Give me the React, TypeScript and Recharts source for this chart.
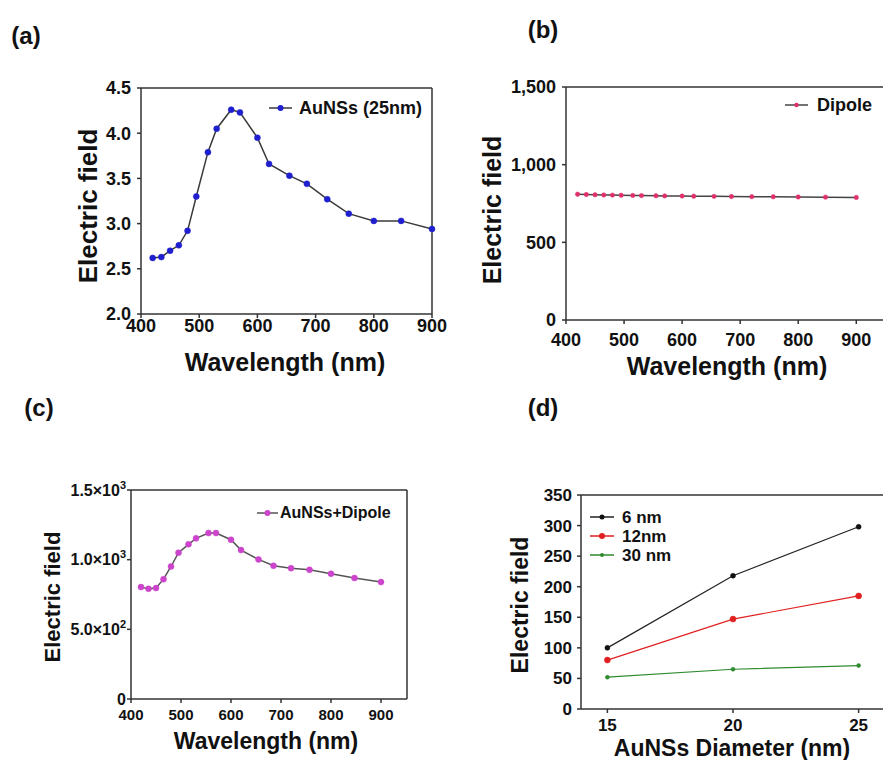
import React from 'react';
import { LineChart, Line, XAxis, YAxis, ReferenceLine, Legend } from 'recharts';

const FONT = '"Liberation Sans", Arial, Helvetica, sans-serif';

// ---------- data ----------
const wavelengths = [420, 435, 450, 465, 480, 495, 515, 530, 555, 570, 600, 620, 655, 685, 720, 757, 800, 847, 900];
const auNSs25 = [2.62, 2.63, 2.7, 2.76, 2.92, 3.3, 3.79, 4.05, 4.26, 4.23, 3.95, 3.66, 3.53, 3.44, 3.27, 3.11, 3.03, 3.03, 2.94];
const dipoleField = [810, 808, 806, 805, 804, 803, 802, 801, 800, 799, 798, 797, 796, 795, 794, 793, 792, 791, 789];
const auDipoleField = [803, 791, 796, 860, 951, 1050, 1110, 1153, 1191, 1191, 1143, 1069, 1002, 956, 939, 927, 899, 868, 839];
const diameters = [15, 20, 25];
const field6nm = [100, 218, 298];
const field12nm = [80, 147, 185];
const field30nm = [52, 65, 71];

const waveTicks = [400, 500, 600, 700, 800, 900];
const ticksA = [2.0, 2.5, 3.0, 3.5, 4.0, 4.5];
const ticksB = [0, 500, 1000, 1500];
const ticksC = [0, 500, 1000, 1500];
const ticksD = [0, 50, 100, 150, 200, 250, 300, 350];
const ticksDX = [15, 20, 25];

const dataA = wavelengths.map((w, i) => ({ w, au: auNSs25[i] }));
const dataB = wavelengths.map((w, i) => ({ w, dip: dipoleField[i] }));
const dataC = wavelengths.map((w, i) => ({ w, aud: auDipoleField[i] }));
const dataD = diameters.map((d, i) => ({ d, s6: field6nm[i], s12: field12nm[i], s30: field30nm[i] }));

// ---------- helpers ----------
type Box = { left: number; top: number; width: number; height: number; pl: number; pr: number; pt: number; pb: number };

function geom(b: Box) {
  return {
    margin: { top: b.pt - b.top, right: b.left + b.width - b.pr, bottom: 0, left: 0 },
    yWidth: b.pl - b.left,
    xHeight: b.top + b.height - b.pb,
  };
}

const AX = '#333';
const axisLine = { stroke: AX, strokeWidth: 1.5 };
const tickStyle = (size: number) => ({ fill: '#111', fontSize: size, fontWeight: 'bold', fontFamily: FONT });

const xTitle = (text: string, cx: number, cy: number, size: number, b: Box) => ({
  content: () => (
    <text x={cx - b.left} y={cy - b.top} textAnchor="middle" dominantBaseline="central"
      fontFamily={FONT} fontWeight="bold" fontSize={size} fill="#111">{text}</text>
  ),
});

const yTitle = (text: string, cx: number, cy: number, size: number, b: Box) => {
  const x = cx - b.left;
  const y = cy - b.top;
  return {
    content: () => (
      <text x={x} y={y} transform={`rotate(-90 ${x} ${y})`} textAnchor="middle" dominantBaseline="central"
        fontFamily={FONT} fontWeight="bold" fontSize={size} fill="#111">{text}</text>
    ),
  };
};

type SeriesStyle = { stroke: string; dot: string; r: number };

function makeLegend(styles: Record<string, SeriesStyle>, lineW: number, gap: number, fontSize: number, rowH: number) {
  const order = Object.keys(styles);
  return (props: any) => {
    const items = [...(props.payload || [])].sort(
      (p: any, q: any) => order.indexOf(String(p.dataKey)) - order.indexOf(String(q.dataKey))
    );
    return (
      <div>
        {items.map((p: any) => {
          const s = styles[p.dataKey];
          return (
            <div key={String(p.dataKey)} style={{ display: 'flex', alignItems: 'center', height: rowH }}>
              <svg width={lineW} height={10} style={{ display: 'block' }}>
                <line x1={0} y1={5} x2={lineW} y2={5} stroke={s.stroke} strokeWidth={1.5} />
                <circle cx={lineW / 2} cy={5} r={s.r} fill={s.dot} />
              </svg>
              <span style={{ marginLeft: gap, fontFamily: FONT, fontWeight: 'bold', fontSize, lineHeight: `${rowH}px`, color: '#111', whiteSpace: 'nowrap' }}>
                {p.value}
              </span>
            </div>
          );
        })}
      </div>
    );
  };
}

const legendWrap = (lx: number, ly: number, rowH: number, b: Box) => ({
  left: lx - b.left, top: ly - b.top - rowH / 2, width: 'auto', height: 'auto', margin: 0,
});

const SciTick = (props: any) => {
  const { x, y, payload } = props;
  const v = payload.value as number;
  const common = { x, y, dy: '0.35em', textAnchor: 'end' as const, fontFamily: FONT, fontWeight: 'bold', fontSize: 16, fill: '#111' };
  if (v === 0) return <text {...common}>0</text>;
  const exp = Math.floor(Math.log10(v));
  const mant = (v / Math.pow(10, exp)).toFixed(1);
  return (
    <text {...common}>
      {mant}×10<tspan dy={-7} fontSize={11}>{exp}</tspan>
    </text>
  );
};

// ---------- panel boxes ----------
const A: Box = { left: 55, top: 60, width: 420, height: 320, pl: 141, pr: 432, pt: 88, pb: 314 };
const B: Box = { left: 470, top: 55, width: 413, height: 330, pl: 566, pr: 883, pt: 87, pb: 320 };
const C: Box = { left: 20, top: 470, width: 400, height: 290, pl: 131, pr: 407, pt: 490, pb: 699 };
const D: Box = { left: 480, top: 470, width: 403, height: 290, pl: 581, pr: 883, pt: 495, pb: 709 };

const stylesA: Record<string, SeriesStyle> = { au: { stroke: '#3a3a3a', dot: '#1f1fd0', r: 3 } };
const stylesB: Record<string, SeriesStyle> = { dip: { stroke: '#444', dot: '#e0306a', r: 2.2 } };
const stylesC: Record<string, SeriesStyle> = { aud: { stroke: '#555', dot: '#cc44cc', r: 3 } };
const stylesD: Record<string, SeriesStyle> = {
  s6: { stroke: '#222', dot: '#111', r: 2.5 },
  s12: { stroke: '#e02020', dot: '#e02020', r: 3 },
  s30: { stroke: '#2e8b2e', dot: '#2e8b2e', r: 2 },
};

const PanelLabel = ({ text, cx, cy }: { text: string; cx: number; cy: number }) => (
  <div style={{ position: 'absolute', left: cx - 30, top: cy - 15, width: 60, height: 30, lineHeight: '30px', textAlign: 'center', fontFamily: FONT, fontWeight: 'bold', fontSize: 24, color: '#111' }}>
    {text}
  </div>
);

export default function App() {
  const gA = geom(A);
  const gB = geom(B);
  const gC = geom(C);
  const gD = geom(D);
  return (
    <div style={{ fontFamily: FONT }}>
      <PanelLabel text="(a)" cx={26} cy={36} />
      <PanelLabel text="(b)" cx={543} cy={30} />
      <PanelLabel text="(c)" cx={39} cy={408} />
      <PanelLabel text="(d)" cx={543} cy={408} />

      {/* (a) */}
      <div style={{ position: 'absolute', left: A.left, top: A.top }}>
        <LineChart width={A.width} height={A.height} data={dataA} margin={gA.margin}>
          <XAxis dataKey="w" type="number" domain={[400, 900]} ticks={waveTicks} interval={0} height={gA.xHeight}
            tickSize={4} tickMargin={1} axisLine={axisLine} tickLine={axisLine} tick={tickStyle(18)}
            label={xTitle('Wavelength (nm)', 285, 362, 25, A)} />
          <YAxis type="number" domain={[2, 4.5]} ticks={ticksA} interval={0} width={gA.yWidth}
            tickSize={4} tickMargin={6} axisLine={axisLine} tickLine={axisLine} tick={tickStyle(18)}
            tickFormatter={(v: number) => v.toFixed(1)}
            label={yTitle('Electric field', 88, 206, 26, A)} />
          <ReferenceLine y={4.5} stroke={AX} strokeWidth={1.5} ifOverflow="visible" />
          <ReferenceLine x={900} stroke={AX} strokeWidth={1.5} ifOverflow="visible" />
          <Line dataKey="au" name="AuNSs (25nm)" stroke={stylesA.au.stroke} strokeWidth={1.5}
            dot={{ r: stylesA.au.r, fill: stylesA.au.dot, stroke: stylesA.au.dot, strokeWidth: 0.5 }} isAnimationActive={false} />
          <Legend layout="horizontal" verticalAlign="middle" align="center"
            content={makeLegend(stylesA, 23, 7, 18, 22)} wrapperStyle={legendWrap(269, 108, 22, A)} />
        </LineChart>
      </div>

      {/* (b) */}
      <div style={{ position: 'absolute', left: B.left, top: B.top }}>
        <LineChart width={B.width} height={B.height} data={dataB} margin={gB.margin}>
          <XAxis dataKey="w" type="number" domain={[400, 946]} ticks={waveTicks} interval={0} height={gB.xHeight}
            tickSize={4} tickMargin={9} axisLine={axisLine} tickLine={axisLine} tick={tickStyle(18)}
            label={xTitle('Wavelength (nm)', 727, 366, 25, B)} />
          <YAxis type="number" domain={[0, 1500]} ticks={ticksB} interval={0} width={gB.yWidth}
            tickSize={4} tickMargin={6} axisLine={axisLine} tickLine={axisLine} tick={tickStyle(18)}
            tickFormatter={(v: number) => v.toLocaleString('en-US')}
            label={yTitle('Electric field', 492, 210, 25, B)} />
          <ReferenceLine y={1500} stroke={AX} strokeWidth={1.5} ifOverflow="visible" />
          <Line dataKey="dip" name="Dipole" stroke={stylesB.dip.stroke} strokeWidth={1.5}
            dot={{ r: stylesB.dip.r, fill: stylesB.dip.dot, stroke: stylesB.dip.dot, strokeWidth: 0.5 }} isAnimationActive={false} />
          <Legend layout="horizontal" verticalAlign="middle" align="center"
            content={makeLegend(stylesB, 23, 9, 18, 22)} wrapperStyle={legendWrap(785, 105, 22, B)} />
        </LineChart>
      </div>

      {/* (c) */}
      <div style={{ position: 'absolute', left: C.left, top: C.top }}>
        <LineChart width={C.width} height={C.height} data={dataC} margin={gC.margin}>
          <XAxis dataKey="w" type="number" domain={[400, 952]} ticks={waveTicks} interval={0} height={gC.xHeight}
            tickSize={4} tickMargin={6} axisLine={axisLine} tickLine={axisLine} tick={tickStyle(15)}
            label={xTitle('Wavelength (nm)', 266, 741, 23, C)} />
          <YAxis type="number" domain={[0, 1500]} ticks={ticksC} interval={0} width={gC.yWidth}
            tickSize={4} tickMargin={1} axisLine={axisLine} tickLine={axisLine} tick={<SciTick />}
            label={yTitle('Electric field', 52, 597, 22, C)} />
          <ReferenceLine y={1500} stroke={AX} strokeWidth={1.5} ifOverflow="visible" />
          <ReferenceLine x={952} stroke={AX} strokeWidth={1.5} ifOverflow="visible" />
          <Line dataKey="aud" name="AuNSs+Dipole" stroke={stylesC.aud.stroke} strokeWidth={1.5}
            dot={{ r: stylesC.aud.r, fill: stylesC.aud.dot, stroke: stylesC.aud.dot, strokeWidth: 0.5 }} isAnimationActive={false} />
          <Legend layout="horizontal" verticalAlign="middle" align="center"
            content={makeLegend(stylesC, 21, 2, 16, 20)} wrapperStyle={legendWrap(257, 513, 20, C)} />
        </LineChart>
      </div>

      {/* (d) */}
      <div style={{ position: 'absolute', left: D.left, top: D.top }}>
        <LineChart width={D.width} height={D.height} data={dataD} margin={gD.margin}>
          <XAxis dataKey="d" type="number" domain={[13.95, 25.97]} ticks={ticksDX} interval={0} height={gD.xHeight}
            tickSize={4} tickMargin={6} axisLine={axisLine} tickLine={axisLine} tick={tickStyle(17)}
            label={xTitle('AuNSs Diameter (nm)', 732, 748, 23, D)} />
          <YAxis type="number" domain={[0, 350]} ticks={ticksD} interval={0} width={gD.yWidth}
            tickSize={4} tickMargin={5} axisLine={axisLine} tickLine={axisLine} tick={tickStyle(17)}
            label={yTitle('Electric field', 520, 605, 23, D)} />
          <ReferenceLine y={350} stroke={AX} strokeWidth={1.5} ifOverflow="visible" />
          <Line dataKey="s6" name="6 nm" stroke={stylesD.s6.stroke} strokeWidth={1.2}
            dot={{ r: stylesD.s6.r, fill: stylesD.s6.dot, stroke: stylesD.s6.dot, strokeWidth: 0.5 }} isAnimationActive={false} />
          <Line dataKey="s12" name="12nm" stroke={stylesD.s12.stroke} strokeWidth={1.2}
            dot={{ r: stylesD.s12.r, fill: stylesD.s12.dot, stroke: stylesD.s12.dot, strokeWidth: 0.5 }} isAnimationActive={false} />
          <Line dataKey="s30" name="30 nm" stroke={stylesD.s30.stroke} strokeWidth={1.2}
            dot={{ r: stylesD.s30.r, fill: stylesD.s30.dot, stroke: stylesD.s30.dot, strokeWidth: 0.5 }} isAnimationActive={false} />
          <Legend layout="horizontal" verticalAlign="middle" align="center"
            content={makeLegend(stylesD, 24, 8, 17, 19)} wrapperStyle={legendWrap(590, 517, 19, D)} />
        </LineChart>
      </div>
    </div>
  );
}
